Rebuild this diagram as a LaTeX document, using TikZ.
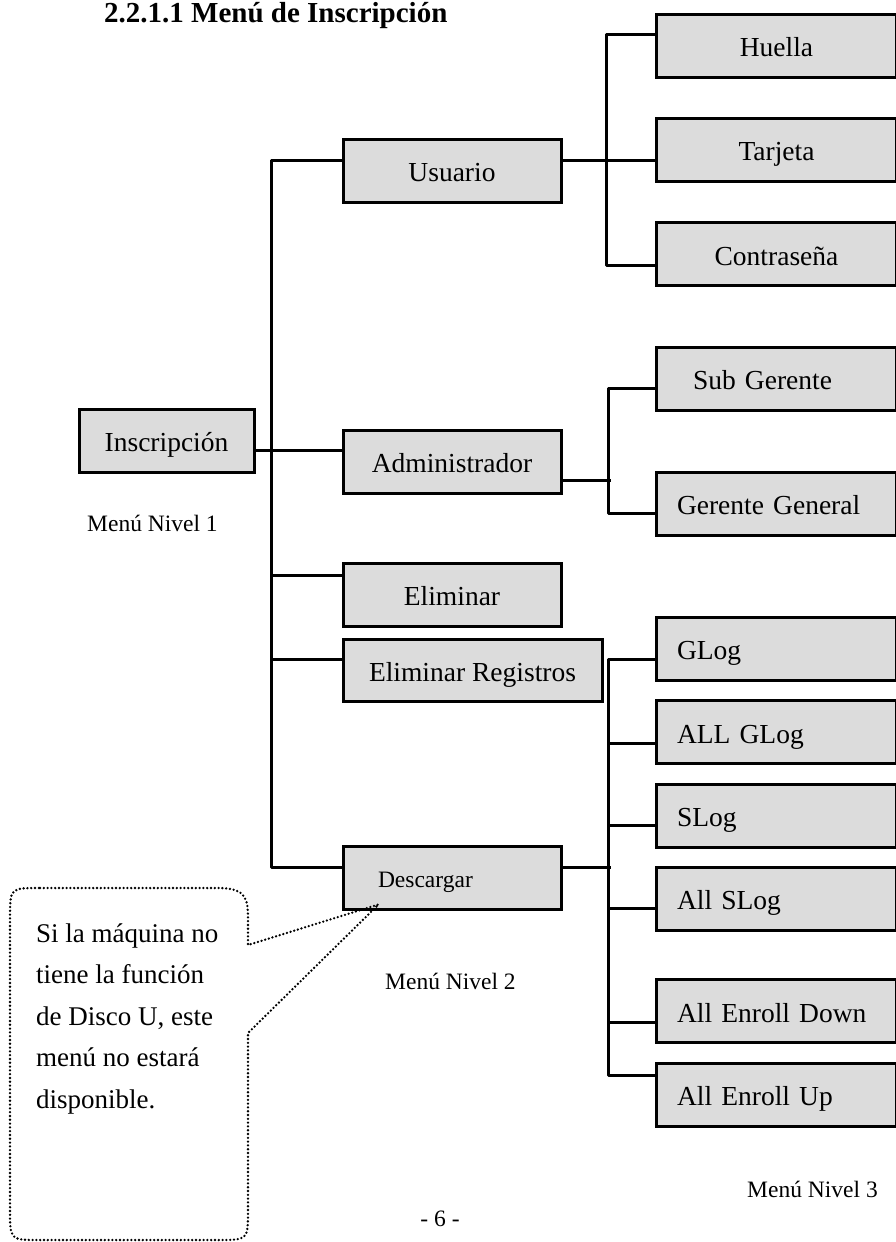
\documentclass[tikz,border=0pt]{standalone}
\usepackage{fontspec}
\setmainfont{Liberation Serif}
\definecolor{boxgray}{RGB}{220,220,220}
\newcommand{\bigtxt}{\fontsize{27.5pt}{33pt}\selectfont}
\newcommand{\smalltxt}{\fontsize{23.5pt}{28pt}\selectfont}
\tikzset{
  x=1pt, y=-1pt,
  conn/.style={line width=3pt, line join=round},
  menubox/.style={draw, line width=3pt, fill=boxgray, inner sep=0pt,
    minimum height=63pt, text height=22pt, text depth=0pt, font=\bigtxt},
  midbox/.style={menubox, minimum width=218pt},
  leafbox/.style={menubox, minimum width=240pt, text width=198pt,
    inner xsep=21pt, align=left},
  leafcenter/.style={leafbox, align=center},
  caption/.style={font=\smalltxt, inner sep=0pt, anchor=base west},
  callout/.style={line width=2.6pt, line cap=round, dash pattern=on 0pt off 3.8pt},
}
\begin{document}
\begin{tikzpicture}
\useasboundingbox (0,0) rectangle (895,1242);

% heading
\node[font=\fontsize{29pt}{34pt}\selectfont\bfseries, inner sep=0pt, anchor=base west]
  (title) at (104,23) {2.2.1.1 Menú de Inscripción};

% level 1
\node[menubox, minimum width=175pt] (insc) at (166.5,440.5) {Inscripción};

% level 2
\node[midbox] (usu) at (452,170.5) {Usuario};
\node[midbox] (adm) at (452,461.5) {Administrador};
\node[midbox] (elim) at (452,594.5) {Eliminar};
\node[menubox, minimum width=259pt, minimum height=62pt] (elreg) at (472.5,670) {Eliminar Registros};
\node[menubox, minimum width=218pt, text width=148pt, inner xsep=35pt, align=left,
  font=\smalltxt, text height=19pt] (desc) at (452,877.5) {Descargar};

% level 3
\node[leafcenter] (huella) at (776.5,45.5) {Huella};
\node[leafcenter] (tarj) at (776.5,149.5) {Tarjeta};
\node[leafcenter] (contr) at (776.5,254) {Contraseña};
\node[leafbox] (subg) at (776,378.5) {\hspace*{16pt}Sub Gerente};
\node[leafbox] (gerg) at (776,503.5) {Gerente General};
\node[leafbox] (glog) at (776,648.5) {GLog};
\node[leafbox] (allglog) at (776,732) {ALL GLog};
\node[leafbox] (slog) at (776,815.5) {SLog};
\node[leafbox] (allslog) at (776,898.5) {All SLog};
\node[leafbox] (aed) at (776,1011) {All Enroll Down};
\node[leafbox] (aeu) at (776,1094.5) {All Enroll Up};

% captions
\node[caption] (lvl1) at (87,531.5) {Menú Nivel 1};
\node[caption] (lvl2) at (385,989) {Menú Nivel 2};
\node[caption] (lvl3) at (747,1197) {Menú Nivel 3};
\node[font=\smalltxt, inner sep=0pt, anchor=base] (page) at (440,1226) {- 6 -};

% level 1 -> level 2
\draw[conn] ([yshift=-9.5pt]insc.east) -- ([yshift=11.5pt]adm.west);
\draw[conn] ([yshift=10.5pt]usu.west) -| ([xshift=-70pt,yshift=10.5pt]desc.west)
  -- ([yshift=10.5pt]desc.west);
\draw[conn] ([yshift=19.5pt]elim.west) -- ++(-70,0);
\draw[conn] ([yshift=11pt]elreg.west) -- ++(-70,0);

% Usuario -> level 3
\draw[conn] ([yshift=11.5pt]huella.west) -| ([xshift=-49pt,yshift=-11pt]contr.west)
  -- ([yshift=-11pt]contr.west);
\draw[conn] ([yshift=10pt]usu.east) -- ([yshift=10pt]usu.east -| tarj.west);

% Administrador -> level 3
\draw[conn] ([yshift=-9.5pt]subg.west) -| ([xshift=-46pt,yshift=-9.5pt]gerg.west)
  -- ([yshift=-9.5pt]gerg.west);
\draw[conn] ([yshift=-18.5pt]adm.east) -- ++(48,0);

% Descargar -> level 3
\draw[conn] ([yshift=-10.5pt]glog.west) -| ([xshift=-46pt,yshift=19.5pt]aeu.west)
  -- ([yshift=19.5pt]aeu.west);
\draw[conn] ([yshift=-11pt]allglog.west) -- ++(-46,0);
\draw[conn] ([yshift=-9.5pt]slog.west) -- ++(-46,0);
\draw[conn] ([yshift=-9.5pt]allslog.west) -- ++(-46,0);
\draw[conn] ([yshift=-11pt]aed.west) -- ++(-46,0);
\draw[conn] ([yshift=10.5pt]desc.east) -- ++(48,0);

% note balloon pointing at Descargar
\coordinate (tip) at ([xshift=37pt,yshift=6pt]desc.south west);
\draw[callout] (40,888) -- (218,888) .. controls (248,888) and (248,900) .. (248,922)
  -- (248,945) -- (tip) -- (248,1033) -- (248,1210)
  .. controls (248,1240) .. (218,1240) -- (40,1240)
  .. controls (10,1240) .. (10,1210) -- (10,918)
  .. controls (10,888) .. (40,888) -- cycle;
\node[font=\fontsize{27pt}{41.5pt}\selectfont, inner sep=0pt, anchor=base west, align=left]
  (note) at (36,1108) {Si la máquina no\\tiene la función\\de Disco U, este\\menú no estará\\disponible.};
\end{tikzpicture}
\end{document}
